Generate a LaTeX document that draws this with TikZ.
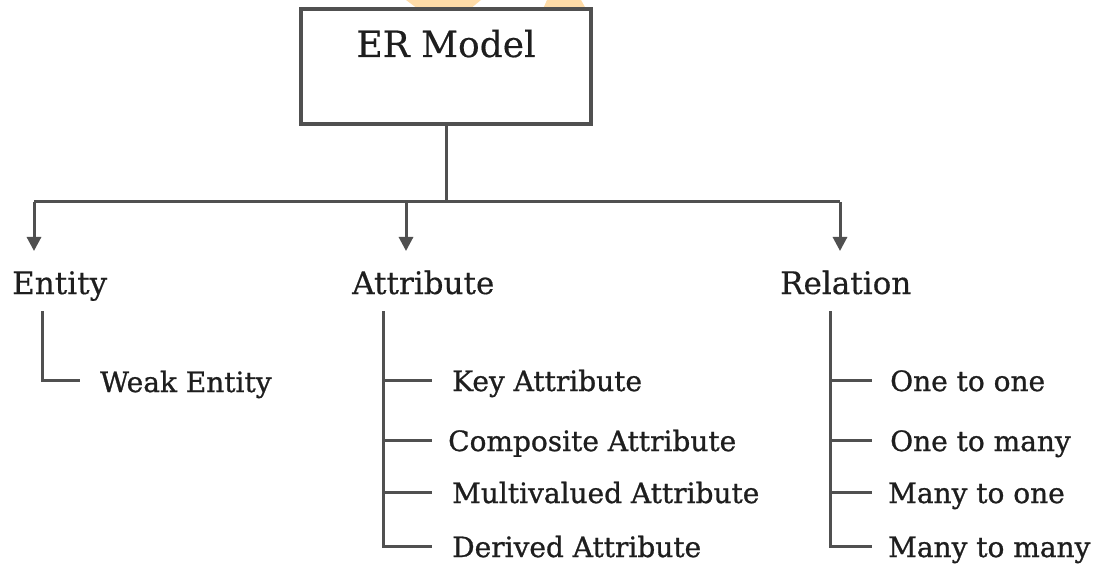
\documentclass[tikz,border=0pt]{standalone}
\usepackage{fontspec}
\setmainfont{DejaVu Serif}
\usetikzlibrary{arrows.meta}
\definecolor{linegray}{HTML}{505050}
\definecolor{inkgray}{HTML}{1E1E1E}
\definecolor{markorange}{HTML}{FFDCA8}
\tikzset{
  x=1pt, y=-1pt,
  link/.style={draw=linegray, line width=3pt},
  branch/.style={link, -{Triangle[width=14pt,length=14pt]}},
  headbox/.style={draw=linegray, line width=3.4pt, fill=white, inner sep=0pt},
  level/.style={anchor=base west, inner sep=0pt, text=inkgray,
    font=\fontsize{31}{36}\selectfont\addfontfeature{FakeBold=0.4}},
  leaf/.style={anchor=base west, inner sep=0pt, text=inkgray,
    font=\fontsize{28}{32}\selectfont\addfontfeature{FakeBold=0.9}},
}
\begin{document}
\begin{tikzpicture}
\useasboundingbox (0,0) rectangle (1099,569);
\fill[white] (0,0) rectangle (1099,569);

% faint logo marks along the top edge
\fill[markorange] (406,0) -- (481,0) -- (470,9) -- (418,9) -- cycle;
\fill[markorange] (547,0) -- (581,0) -- (586,9) -- (543,9) -- cycle;

% root box
\draw[headbox] (301,9) rectangle (591,124);
\node[anchor=base, inner sep=0pt, text=inkgray,
  font=\fontsize{36}{40}\selectfont\addfontfeature{FakeBold=0.4}] (er) at (446,57) {ER Model};
\coordinate (erb) at (446,124);
\coordinate (bus) at (446,202);

% first level
\node[level] (entity) at (12,294) {Entity};
\node[level] (attr) at (352,294) {Attribute};
\node[level] (rel) at (780,294) {Relation};

\coordinate (tipE) at (34,251);
\coordinate (tipA) at (406,251);
\coordinate (tipR) at (840,251);

\draw[link] (erb) -- (bus);
\draw[link] (tipE |- bus) -- (tipR |- bus);
\draw[branch] (tipE |- bus) -- (tipE);
\draw[branch] (tipA |- bus) -- (tipA);
\draw[branch] (tipR |- bus) -- (tipR);

% entity branch
\node[leaf] (weak) at (100,392) {Weak Entity};
\coordinate (eTop) at (42,311);
\draw[link] (eTop) |- (80,380);

% attribute branch
\node[leaf] (key) at (452,391) {Key Attribute};
\node[leaf] (comp) at (448,451) {Composite Attribute};
\node[leaf] (multi) at (452,503) {Multivalued Attribute};
\node[leaf] (der) at (452,557) {Derived Attribute};
\coordinate (aTop) at (383,311);
\coordinate (aBot) at (383,546);
\draw[link] (aTop) -- (aBot) -- (432,546);
\draw[link] (383,380) -- (432,380);
\draw[link] (383,440) -- (432,440);
\draw[link] (383,492) -- (432,492);

% relation branch
\node[leaf] (o2o) at (890,391) {One to one};
\node[leaf] (o2m) at (890,451) {One to many};
\node[leaf] (m2o) at (888,503) {Many to one};
\node[leaf] (m2m) at (888,557) {Many to many};
\coordinate (rTop) at (830,311);
\coordinate (rBot) at (830,546);
\draw[link] (rTop) -- (rBot) -- (872,546);
\draw[link] (830,380) -- (872,380);
\draw[link] (830,440) -- (872,440);
\draw[link] (830,492) -- (872,492);
\end{tikzpicture}
\end{document}
